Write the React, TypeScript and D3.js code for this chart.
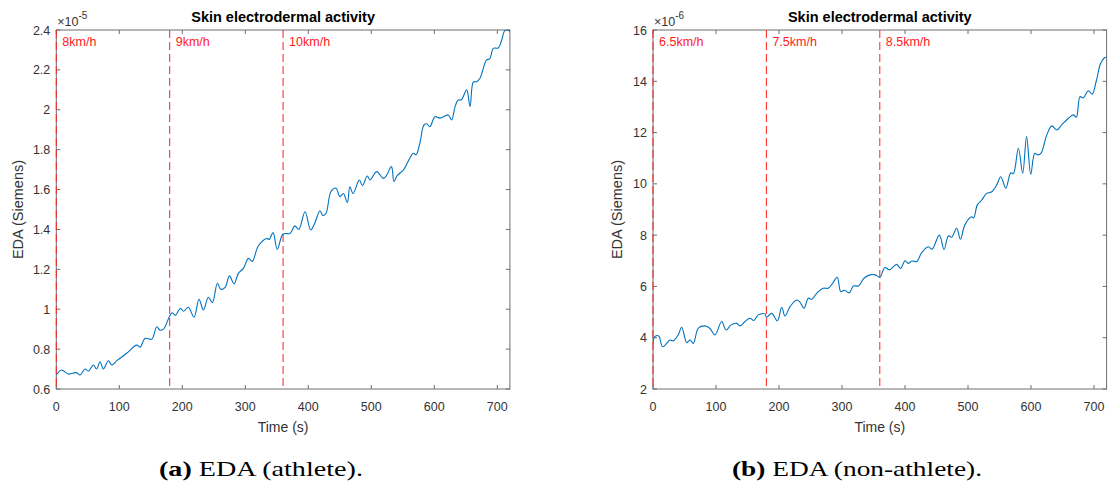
import React from "react";
import * as d3 from "d3";

// ---------- data ----------
const timeTicks = [0, 100, 200, 300, 400, 500, 600, 700];
const stageStarts = [0, 180, 360];

// athlete EDA, in units of 1e-5 S
const athleteTime = [
  0, 8.5, 19, 32, 37.6, 45.5, 51, 58.8, 64, 69.4, 74.7, 82.6, 88, 96, 111.7, 127.6, 133, 141, 151.6,
  159.5, 164.5, 170, 180, 183.8, 189, 196.9, 202, 209.6, 218.6, 226.6, 233.5, 241.4, 247.8, 255.7,
  261, 268, 274.8, 282.2, 289, 297, 305, 311, 320.6, 333.9, 338, 344, 350.8, 360, 371, 378.5, 385,
  394.8, 403.8, 410, 418.6, 423, 428, 436, 444, 450, 455.6, 462, 466, 471, 481, 486, 493.6, 498,
  508.5, 519, 524, 532, 536, 541, 551, 561, 566.7, 571, 577, 583.6, 588, 593, 601, 609, 622, 627.5,
  633, 638, 643, 651.4, 656.7, 662, 667, 672.5, 683, 688, 693.7, 701.6, 707, 712, 718, 720,
];
const athleteEda = [
  0.67, 0.695, 0.675, 0.682, 0.67, 0.7, 0.69, 0.72, 0.7, 0.737, 0.7, 0.742, 0.72, 0.742, 0.779, 0.82,
  0.81, 0.854, 0.85, 0.912, 0.895, 0.9, 0.966, 0.982, 0.97, 1.004, 0.99, 1.01, 0.96, 1.05, 0.996,
  1.06, 1.033, 1.13, 1.1, 1.11, 1.167, 1.127, 1.18, 1.205, 1.255, 1.24, 1.317, 1.355, 1.35, 1.384,
  1.3, 1.377, 1.38, 1.418, 1.4, 1.489, 1.397, 1.43, 1.494, 1.47, 1.48, 1.59, 1.607, 1.564, 1.58,
  1.535, 1.614, 1.58, 1.648, 1.62, 1.668, 1.648, 1.69, 1.656, 1.67, 1.715, 1.64, 1.67, 1.698, 1.757,
  1.782, 1.775, 1.832, 1.924, 1.93, 1.915, 1.965, 1.958, 1.974, 1.949, 2.016, 2.049, 2.05, 2.1,
  2.016, 2.14, 2.14, 2.158, 2.25, 2.255, 2.308, 2.31, 2.35, 2.397, 2.4, 2.39,
];
const athleteTicks = [0.6, 0.8, 1, 1.2, 1.4, 1.6, 1.8, 2, 2.2, 2.4];
const athleteSpeeds = ["8km/h", "9km/h", "10km/h"];

// non-athlete EDA, in units of 1e-6 S
const nonAthleteTime = [
  0, 3, 9, 15.4, 27, 32, 40, 45.5, 53.5, 59, 64, 72, 82.5, 90, 98.4, 109, 116, 124, 133, 138, 146,
  154, 160, 167, 177.7, 180, 188.4, 197.4, 204.3, 209.5, 217.5, 228, 233, 239.7, 246.5, 252, 260.8,
  270.4, 278, 285, 292.5, 298, 304, 311.6, 318, 326, 335, 344.4, 353, 360, 368, 375, 386.8, 393,
  400, 405, 411, 418.6, 426.5, 437, 443, 454.5, 462, 468.8, 474, 482, 488, 495, 505.8, 509, 514.8,
  521.7, 529.7, 537, 545.6, 552, 560, 567.8, 572, 580, 586.8, 593, 599.6, 606, 611, 616, 625, 633,
  641, 648.7, 659, 667, 672, 677.8, 683, 691, 697, 704, 710.6, 717.5, 720,
];
const nonAthleteEda = [
  3.78, 4.04, 4.07, 3.65, 3.91, 3.88, 4.11, 4.41, 3.81, 3.91, 3.78, 4.37, 4.46, 4.37, 4.11, 4.63,
  4.3, 4.5, 4.56, 4.46, 4.63, 4.76, 4.67, 4.89, 4.93, 4.8, 4.95, 4.66, 5.19, 4.85, 5.21, 5.47, 5.4,
  5.15, 5.54, 5.5, 5.76, 5.93, 5.93, 6.12, 6.36, 5.8, 5.85, 5.75, 6.02, 6.02, 6.32, 6.45, 6.45,
  6.36, 6.74, 6.65, 6.86, 6.7, 7.0, 6.9, 6.99, 6.97, 7.32, 7.55, 7.45, 8.0, 7.44, 7.97, 7.92, 8.27,
  7.84, 8.4, 8.72, 8.67, 9.18, 9.37, 9.63, 9.68, 9.96, 10.28, 9.83, 10.43, 10.4, 11.39, 10.41, 11.84,
  10.38, 11.19, 11.13, 11.2, 11.9, 12.26, 12.1, 12.3, 12.55, 12.69, 12.6, 13.4, 13.35, 13.63, 13.5,
  14.05, 14.7, 14.93, 14.93,
];
const nonAthleteTicks = [2, 4, 6, 8, 10, 12, 14, 16];
const nonAthleteSpeeds = ["6.5km/h", "7.5km/h", "8.5km/h"];

const W = 1108;
const H = 483;
const SANS = "'Liberation Sans', Arial, Helvetica, sans-serif";
const SERIF = "'Liberation Serif', 'Times New Roman', serif";
const AXIS = "#6e6e6e";
const TXT = "#333333";

type PanelProps = {
  id: string;
  x0: number;
  x1: number;
  y0: number;
  y1: number;
  yDomain: [number, number];
  yTicks: number[];
  exponent: string;
  time: number[];
  values: number[];
  speeds: string[];
  yLabelX: number;
  capBold: string;
  capRest: string;
  capX: number;
  capLen: number;
};

function Panel(p: PanelProps) {
  const x = d3.scaleLinear().domain([0, 720]).range([p.x0, p.x1]);
  const y = d3.scaleLinear().domain(p.yDomain).range([p.y1, p.y0]);
  const pts: [number, number][] = p.time.map((t, i) => [t, p.values[i]]);
  const line = d3
    .line<[number, number]>()
    .x((d) => x(d[0]))
    .y((d) => y(d[1]))
    .curve(d3.curveCatmullRom.alpha(0.5));
  const fmt = (v: number) => String(+v.toFixed(1));
  const cx = (p.x0 + p.x1) / 2;
  const cy = (p.y0 + p.y1) / 2;
  const tl = 4;
  return (
    <g>
      <defs>
        <clipPath id={p.id}>
          <rect x={p.x0} y={p.y0} width={p.x1 - p.x0} height={p.y1 - p.y0} />
        </clipPath>
      </defs>
      <rect x={p.x0} y={p.y0} width={p.x1 - p.x0} height={p.y1 - p.y0} fill="none" stroke={AXIS} strokeWidth={1} />
      {timeTicks.map((t) => (
        <g key={"xt" + t}>
          <line x1={x(t)} x2={x(t)} y1={p.y1} y2={p.y1 - tl} stroke={AXIS} />
          <line x1={x(t)} x2={x(t)} y1={p.y0} y2={p.y0 + tl} stroke={AXIS} />
          <text x={x(t)} y={p.y1 + 22} textAnchor="middle" fontFamily={SANS} fontSize={12.5} fill={TXT}>
            {t}
          </text>
        </g>
      ))}
      {p.yTicks.map((v) => (
        <g key={"yt" + v}>
          <line x1={p.x0} x2={p.x0 + tl} y1={y(v)} y2={y(v)} stroke={AXIS} />
          <line x1={p.x1} x2={p.x1 - tl} y1={y(v)} y2={y(v)} stroke={AXIS} />
          <text x={p.x0 - 6} y={y(v)} dy="0.36em" textAnchor="end" fontFamily={SANS} fontSize={12.5} fill={TXT}>
            {fmt(v)}
          </text>
        </g>
      ))}
      {stageStarts.map((s, i) => (
        <g key={"st" + s}>
          <line x1={x(s)} x2={x(s)} y1={p.y0} y2={p.y1} stroke="#ff2020" strokeWidth={1} strokeDasharray="8,4" />
          <text x={x(s) + 6} y={p.y0 + 16} fontFamily={SANS} fontSize={12.5} fill="#ff1a1a">
            {p.speeds[i]}
          </text>
        </g>
      ))}
      <path d={line(pts) || ""} fill="none" stroke="#0072BD" strokeWidth={1.1} clipPath={`url(#${p.id})`} />
      <text x={p.x0 + 1} y={p.y0 - 4.5} fontFamily={SANS} fontSize={12.5} fill={TXT}>
        ×10
        <tspan fontSize={10} dy={-6.5}>
          {p.exponent}
        </tspan>
      </text>
      <text x={cx} y={p.y0 - 8.5} textAnchor="middle" fontFamily={SANS} fontWeight="bold" fontSize={14.5} fill="#000">
        Skin electrodermal activity
      </text>
      <text x={cx} y={p.y1 + 43} textAnchor="middle" fontFamily={SANS} fontSize={14} fill={TXT}>
        Time (s)
      </text>
      <text
        transform={`translate(${p.yLabelX},${cy}) rotate(-90)`}
        textAnchor="middle"
        fontFamily={SANS}
        fontSize={14.5}
        fill={TXT}
      >
        EDA (Siemens)
      </text>
      <text
        x={p.capX - p.capLen / 2}
        y={476}
        fontFamily={SERIF}
        fontSize={22}
        fill="#000"
        textLength={p.capLen}
        lengthAdjust="spacingAndGlyphs"
      >
        <tspan fontWeight="bold">{p.capBold}</tspan>
        {p.capRest}
      </text>
    </g>
  );
}

export default function App() {
  return (
    <svg
      width={W}
      height={H}
      viewBox={`0 0 ${W} ${H}`}
      style={{ position: "absolute", left: 0, top: 0, background: "#fff" }}
    >
      <rect width={W} height={H} fill="#fff" />
      <Panel
        id="clipA"
        x0={56.3}
        x1={509.9}
        y0={30}
        y1={389}
        yDomain={[0.6, 2.4]}
        yTicks={athleteTicks}
        exponent="-5"
        time={athleteTime}
        values={athleteEda}
        speeds={athleteSpeeds}
        yLabelX={22.5}
        capBold="(a)"
        capRest=" EDA (athlete)."
        capX={261}
        capLen={204}
      />
      <Panel
        id="clipB"
        x0={653}
        x1={1106.6}
        y0={30}
        y1={389}
        yDomain={[2, 16]}
        yTicks={nonAthleteTicks}
        exponent="-6"
        time={nonAthleteTime}
        values={nonAthleteEda}
        speeds={nonAthleteSpeeds}
        yLabelX={622}
        capBold="(b)"
        capRest=" EDA (non-athlete)."
        capX={857}
        capLen={250}
      />
    </svg>
  );
}
